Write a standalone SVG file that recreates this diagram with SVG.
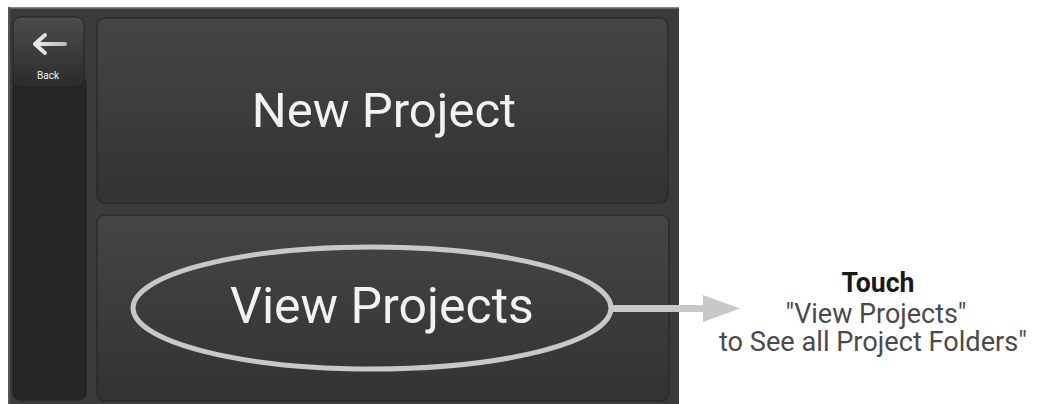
<svg xmlns="http://www.w3.org/2000/svg" width="1045" height="404" viewBox="0 0 1045 404">
  <defs>
    <linearGradient id="panelGrad" x1="0" y1="0" x2="0" y2="1">
      <stop offset="0" stop-color="#454545"/>
      <stop offset="1" stop-color="#333333"/>
    </linearGradient>
    <linearGradient id="backGrad" x1="0" y1="0" x2="0" y2="1">
      <stop offset="0" stop-color="#4c4c4c"/>
      <stop offset="1" stop-color="#2c2c2c"/>
    </linearGradient>
    <linearGradient id="arrowGrad" x1="0" y1="0" x2="1" y2="0">
      <stop offset="0" stop-color="#eeeeee"/>
      <stop offset="1" stop-color="#bbbbbb"/>
    </linearGradient>
    <style>
      .panel { fill: url(#panelGrad); stroke: #2b2b2b; stroke-width: 1.5; }
      .btnText { font-family: Roboto, "Liberation Sans", sans-serif; fill: #f2f2f2; text-anchor: middle; }
      .note { font-family: Roboto, "Liberation Sans", sans-serif; font-size: 28px; text-anchor: middle; }
      .hl { fill: none; stroke: #c8c8ca; }
    </style>
  </defs>

  <rect x="0" y="0" width="1045" height="404" fill="#ffffff"/>

  <g id="screen">
    <rect x="8" y="7" width="671" height="397" fill="#3b3b3b"/>
    <rect x="8" y="7" width="671" height="1.5" fill="#8a8a8a"/>
    <rect x="8" y="7" width="2" height="397" fill="#555555"/>
  </g>

  <g id="sidebar">
    <path d="M13,80 H86 V392 Q86,400 78,400 H21 Q13,400 13,392 Z" fill="#262626" stroke="#1e1e1e" stroke-width="1"/>
  </g>

  <g id="back-button">
    <rect x="13" y="17" width="71" height="70" rx="8" fill="url(#backGrad)" stroke="#222222" stroke-width="1"/>
    <path d="M65,44 H36 M45,35 L35,44 L45,53" fill="none" stroke="url(#arrowGrad)" stroke-width="4" stroke-linecap="round" stroke-linejoin="round"/>
    <text x="48" y="79" class="btnText" font-size="10">Back</text>
  </g>

  <g id="new-project">
    <rect x="97" y="18" width="571" height="185" rx="8" class="panel"/>
    <text x="384" y="127" class="btnText" font-size="49">New Project</text>
  </g>

  <g id="view-projects">
    <rect x="97" y="215" width="572" height="186" rx="8" class="panel"/>
    <text x="382" y="323" class="btnText" font-size="50">View Projects</text>
  </g>

  <g id="connectors">
    <ellipse cx="372" cy="308" rx="239" ry="61" class="hl" stroke-width="5"/>
    <line x1="610" y1="308.5" x2="705" y2="308.5" stroke="#c8c8ca" stroke-width="7"/>
    <polygon points="703,295 740,308.5 703,322" fill="#c8c8ca"/>
  </g>

  <g id="note">
    <text x="878" y="292" class="note" font-weight="bold" fill="#1a1a1a" textLength="73" lengthAdjust="spacingAndGlyphs">Touch</text>
    <text x="876" y="323" class="note" fill="#4a4a4a" textLength="181" lengthAdjust="spacingAndGlyphs">"View Projects"</text>
    <text x="873" y="351" class="note" fill="#4a4a4a" textLength="308" lengthAdjust="spacingAndGlyphs">to See all Project Folders"</text>
  </g>
</svg>
